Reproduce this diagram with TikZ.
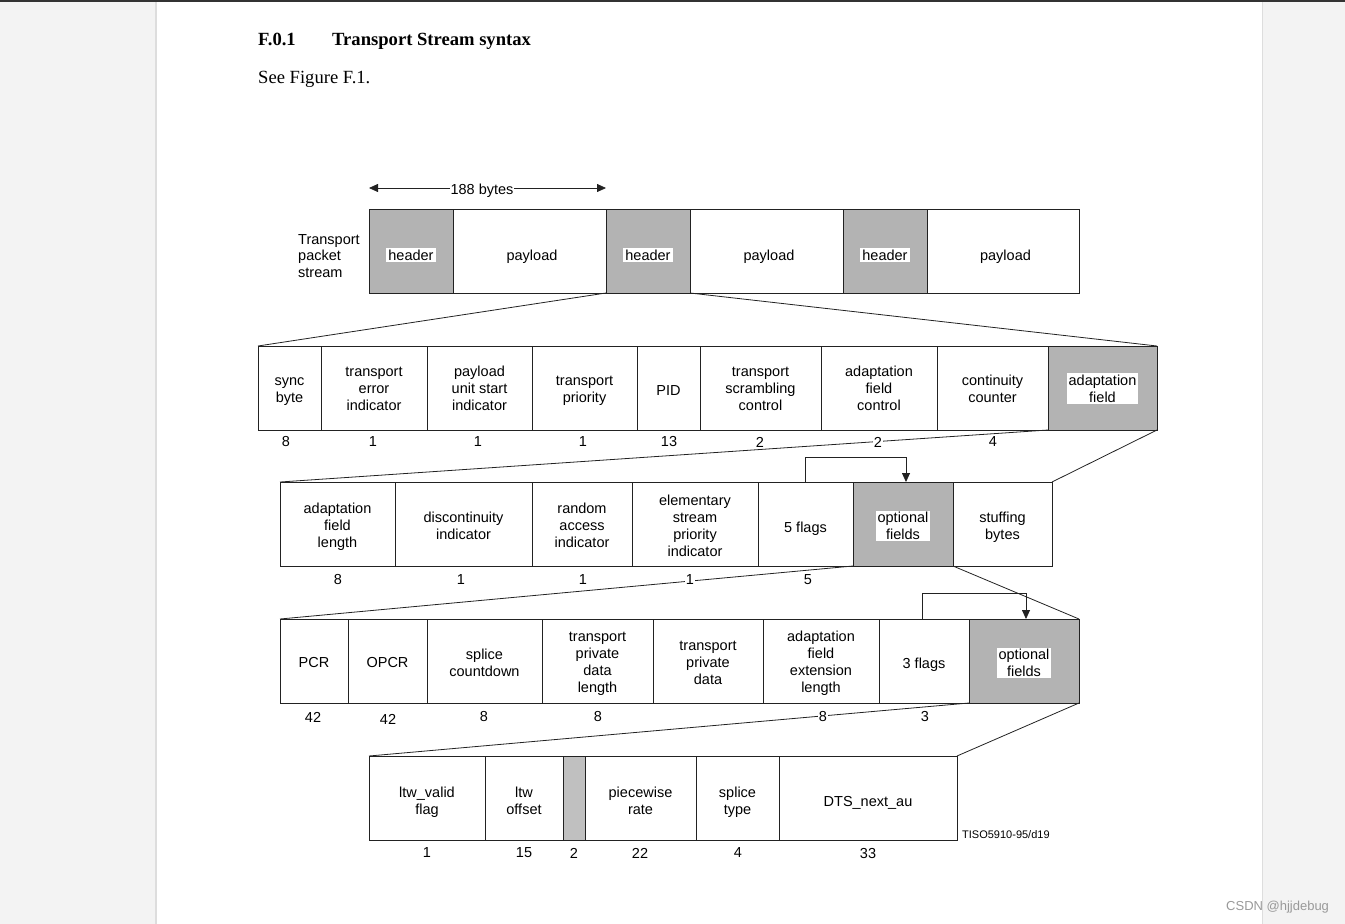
\documentclass[tikz,border=0pt]{standalone}
\usepackage{fontspec}
\setmainfont{Liberation Sans}
\newfontfamily\serifx{Liberation Serif}
\usetikzlibrary{arrows.meta}
\definecolor{pagegray}{HTML}{F3F3F3}
\definecolor{edgegray}{HTML}{DDDDDD}
\definecolor{topdark}{HTML}{333333}
\definecolor{boxgray}{HTML}{B3B3B3}
\definecolor{resgray}{HTML}{C0C0C0}
\definecolor{linecol}{HTML}{222222}
% name, x1, x2, top y, style, text shift down, text
\newcommand\cellbox[7]{%
  \node[cell,#5,minimum width={#3-#2},minimum height=84] (#1) at ({(#2+#3)/2},{#4+42}) {};
  \node[celltext,yshift=-#6pt] (#1-t) at (#1.center) {#7};}
\newcommand\grayname[4]{% name, cell, shift down, text
  \node[wl,yshift=-#3pt] (#1) at (#2.center) {#4};}
\tikzset{
  cell/.style={draw=linecol,line width=0.8pt,inner sep=0pt,outer sep=0pt},
  celltext/.style={inner sep=0pt,align=center,font=\fontsize{14.5}{16.9}\selectfont},
  shade/.style={fill=boxgray},
  plain/.style={fill=white},
  wl/.style={fill=white,inner xsep=2pt,inner ysep=1.5pt,align=center,
    font=\fontsize{14.5}{16.9}\selectfont},
  num/.style={fill=white,inner sep=1pt,font=\fontsize{14.5}{16.9}\selectfont},
  zl/.style={draw=linecol,line width=0.8pt},
  tri/.style={-{Triangle[length=9pt,width=8pt]},draw=linecol,line width=0.8pt}
}
\begin{document}
\begin{tikzpicture}[x=1pt,y=-1pt]
\useasboundingbox (0,0) rectangle (1345,924);
% page background
\fill[pagegray] (0,0) rectangle (156,924);
\fill[pagegray] (1262,0) rectangle (1345,924);
\draw[edgegray,line width=1.5pt] (156,0) -- (156,924);
\draw[edgegray,line width=1pt] (1262,0) -- (1262,924);
\fill[topdark] (0,0) rectangle (1345,2);
% heading
\node[anchor=base west,inner sep=0,font=\serifx\bfseries\fontsize{18.6}{20}\selectfont] (hnum) at (258,45) {F.0.1};
\node[anchor=base west,inner sep=0,font=\serifx\bfseries\fontsize{18.6}{20}\selectfont] (htitle) at (332,45) {Transport Stream syntax};
\node[anchor=base west,inner sep=0,font=\serifx\fontsize{18.6}{20}\selectfont] (see) at (258,83) {See Figure F.1.};

% row 0
\cellbox{h1}{369}{453}{209}{shade}{0}{}
\cellbox{p1}{453}{606}{209}{plain}{6}{\hspace*{5pt}payload}
\cellbox{h2}{606}{690}{209}{shade}{0}{}
\cellbox{p2}{690}{843}{209}{plain}{6}{\hspace*{5pt}payload}
\cellbox{h3}{843}{927}{209}{shade}{0}{}
\cellbox{p3}{927}{1079}{209}{plain}{6}{\hspace*{5pt}payload}
\grayname{h1t}{h1}{4}{header}
\grayname{h2t}{h2}{4}{header}
\grayname{h3t}{h3}{4}{header}
\node[anchor=west,align=left,inner sep=0,font=\fontsize{14.5}{16.5}\selectfont] (tps) at (298,256) {Transport\\packet\\stream};
\coordinate (ba) at (369,188);
\coordinate (bb) at (606,188);
\draw[{Triangle[length=9pt,width=8pt]}-{Triangle[length=9pt,width=8pt]},draw=linecol,line width=0.8pt] (ba) -- (bb);
\node[fill=white,inner xsep=0.5pt,inner ysep=1pt,font=\fontsize{14.5}{16.9}\selectfont] (bytes) at (482,191) {188 bytes};

% row 1
\cellbox{sync}{258}{321}{346}{plain}{4}{sync\\byte}
\cellbox{tei}{321}{427}{346}{plain}{1}{transport\\error\\indicator}
\cellbox{pusi}{427}{532}{346}{plain}{0}{payload\\unit start\\indicator}
\cellbox{tp}{532}{637}{346}{plain}{3}{transport\\priority}
\cellbox{pid}{637}{700}{346}{plain}{3}{PID}
\cellbox{tsc}{700}{821}{346}{plain}{1}{transport\\scrambling\\control}
\cellbox{afc}{821}{937}{346}{plain}{0}{adaptation\\field\\control}
\cellbox{cc}{937}{1048}{346}{plain}{1}{continuity\\counter}
\cellbox{af}{1048}{1157}{346}{shade}{0}{}
\grayname{aft}{af}{0.5}{adaptation\\field}
\draw[zl] (h2.south west) -- (sync.north west);
\draw[zl] (h2.south east) -- (af.north east);

% row 2
\cellbox{afl}{280}{395}{482}{plain}{3}{adaptation\\field\\length}
\cellbox{di}{395}{532}{482}{plain}{2}{discontinuity\\indicator}
\cellbox{rai}{532}{632}{482}{plain}{1}{random\\access\\indicator}
\cellbox{espi}{632}{758}{482}{plain}{2}{elementary\\stream\\priority\\indicator}
\cellbox{flf}{758}{853}{482}{plain}{5}{5 flags}
\cellbox{opta}{853}{953}{482}{shade}{0}{}
\cellbox{sb}{953}{1052}{482}{plain}{3}{stuffing\\bytes}
\grayname{optat}{opta}{2}{optional\\fields}
\draw[zl] (af.south west) -- (afl.north west);
\draw[zl] (af.south east) -- (sb.north east);
\draw[tri] (flf.north) -- ++(0,-25) -| ([xshift=3pt]opta.north);

% row 1 numbers
\node[num] (n11) at (286,442) {8};
\node[num] (n12) at (373,442) {1};
\node[num] (n13) at (478,442) {1};
\node[num] (n14) at (583,442) {1};
\node[num] (n15) at (669,442) {13};
\node[num] (n16) at (760,442) {2};
\node[num] (n17) at (878,442) {2};
\node[num] (n18) at (993,442) {4};

% row 3
\cellbox{pcr}{280}{348}{619}{plain}{2}{PCR}
\cellbox{opcr}{348}{427}{619}{plain}{2}{OPCR}
\cellbox{sc}{427}{542}{619}{plain}{2}{splice\\countdown}
\cellbox{tpdl}{542}{653}{619}{plain}{3}{transport\\private\\data\\length}
\cellbox{tpd}{653}{763}{619}{plain}{2}{transport\\private\\data}
\cellbox{afel}{763}{879}{619}{plain}{2}{adaptation\\field\\extension\\length}
\cellbox{flt}{879}{969}{619}{plain}{4}{3 flags}
\cellbox{optb}{969}{1079}{619}{shade}{0}{}
\grayname{optbt}{optb}{2}{optional\\fields}
\draw[zl] (opta.south west) -- (pcr.north west);
\draw[zl] (opta.south east) -- (optb.north east);
\draw[tri] ([xshift=-2pt]flt.north) -- ++(0,-26) -| ([xshift=2pt]optb.north);

% row 2 numbers
\node[num] (n21) at (338,580) {8};
\node[num] (n22) at (461,580) {1};
\node[num] (n23) at (583,580) {1};
\node[num] (n24) at (690,580) {1};
\node[num] (n25) at (808,580) {5};

% row 4
\cellbox{ltwv}{369}{485}{756}{plain}{4}{ltw\_valid\\flag}
\cellbox{ltwo}{485}{563}{756}{plain}{3}{ltw\\offset}
\cellbox{res}{563}{585}{756}{fill=resgray}{0}{}
\cellbox{pr}{585}{696}{756}{plain}{3}{piecewise\\rate}
\cellbox{st}{696}{779}{756}{plain}{4}{splice\\type}
\cellbox{dts}{779}{957}{756}{plain}{5}{DTS\_next\_au}
\draw[zl] (optb.south west) -- (ltwv.north west);
\draw[zl] (optb.south east) -- (dts.north east);

% row 3 numbers
\node[num] (n31) at (313,717) {42};
\node[num] (n32) at (388,719) {42};
\node[num] (n33) at (484,717) {8};
\node[num] (n34) at (598,717) {8};
\node[num] (n35) at (823,717) {8};
\node[num] (n36) at (925,717) {3};

% row 4 numbers
\node[num] (n41) at (427,853) {1};
\node[num] (n42) at (524,853) {15};
\node[num] (n43) at (574,853) {2};
\node[num] (n44) at (640,853) {22};
\node[num] (n45) at (738,853) {4};
\node[num] (n46) at (868,853) {33};

\node[anchor=west,inner sep=0,font=\fontsize{11}{13}\selectfont] (tiso) at (962,835) {TISO5910-95/d19};
\node[anchor=west,inner sep=0,text=gray!80,font=\fontsize{13}{15}\selectfont] (csdn) at (1226,907) {CSDN @hjjdebug};
\end{tikzpicture}
\end{document}
